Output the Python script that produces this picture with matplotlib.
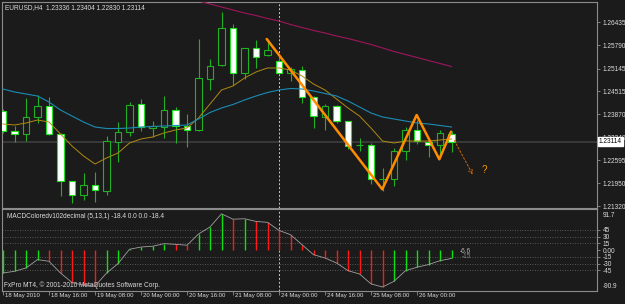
import numpy as np
import matplotlib.pyplot as plt
from matplotlib.transforms import blended_transform_factory

plt.rcParams['font.family'] = ['Liberation Sans', 'DejaVu Sans']

# EURUSD H4 bars, 18 May 2010 00:00 .. 26 May 2010 (index 0..39)
opens = [1.23966, 1.23409, 1.23325, 1.23807, 1.24105, 1.23325, 1.22008, 1.21619, 1.21897, 1.21747,
         1.23103, 1.23389, 1.24152, 1.23506, 1.23512, 1.23993, 1.23548, 1.23428, 1.24865, 1.25238,
         1.26285, 1.25015, 1.25711, 1.25516, 1.25349, 1.25032, 1.25099, 1.24364, 1.23807, 1.24105,
         1.23687, 1.23010, 1.23011, 1.22059, 1.22064, 1.22852, 1.23437, 1.23111, 1.23019, 1.23336]
highs = [1.24021, 1.23548, 1.24328, 1.24419, 1.24355, 1.23340, 1.22017, 1.22240, 1.22267, 1.23270,
         1.23659, 1.24225, 1.24308, 1.23679, 1.24375, 1.24069, 1.23890, 1.25962, 1.25413, 1.26713,
         1.26388, 1.25720, 1.25934, 1.25962, 1.25485, 1.25199, 1.25218, 1.24370, 1.24152, 1.24120,
         1.23695, 1.23206, 1.23066, 1.22370, 1.22927, 1.23529, 1.23715, 1.23139, 1.23437, 1.23404]
lows = [1.23353, 1.23103, 1.23139, 1.23640, 1.23297, 1.21599, 1.21413, 1.21488, 1.21440, 1.21627,
        1.22554, 1.23278, 1.23417, 1.23250, 1.23222, 1.23066, 1.22955, 1.23409, 1.24550, 1.25230,
        1.24689, 1.24848, 1.25171, 1.25510, 1.25025, 1.24801, 1.24197, 1.23492, 1.23437, 1.23631,
        1.22899, 1.22860, 1.21925, 1.21738, 1.21878, 1.22602, 1.23047, 1.22693, 1.22693, 1.22830]
closes = [1.23409, 1.23325, 1.23807, 1.24105, 1.23325, 1.22008, 1.21635, 1.21905, 1.21766, 1.23122,
          1.23389, 1.24124, 1.23529, 1.23534, 1.23985, 1.23556, 1.23437, 1.24876, 1.25227, 1.26268,
          1.25015, 1.25711, 1.25477, 1.25664, 1.25032, 1.25127, 1.24364, 1.23826, 1.24113, 1.23696,
          1.23000, 1.23020, 1.22064, 1.22072, 1.22852, 1.23437, 1.23130, 1.23019, 1.23345, 1.23114]

ma_fast = [1.23604, 1.23576, 1.23631, 1.23715, 1.23659, 1.23325, 1.22991, 1.22713, 1.22490, 1.22657,
           1.22796, 1.23075, 1.23186, 1.23242, 1.23353, 1.23437, 1.23492, 1.23771, 1.24160, 1.24550,
           1.24662, 1.24884, 1.25051, 1.25163, 1.25163, 1.25107, 1.24940, 1.24717, 1.24550, 1.24300,
           1.24049, 1.23826, 1.23492, 1.23130, 1.23075, 1.23130, 1.23130, 1.23130, 1.23158, 1.23186]
ma_mid = [1.24578, 1.24495, 1.24439, 1.24383, 1.24216, 1.23993, 1.23826, 1.23659, 1.23520, 1.23478,
          1.23478, 1.23492, 1.23520, 1.23534, 1.23548, 1.23562, 1.23576, 1.23743, 1.23924, 1.24049,
          1.24147, 1.24272, 1.24383, 1.24481, 1.24550, 1.24592, 1.24578, 1.24522, 1.24453, 1.24383,
          1.24244, 1.24077, 1.23910, 1.23799, 1.23743, 1.23687, 1.23631, 1.23604, 1.23562, 1.23520]
ma_slow_x = list(range(17, 40))
ma_slow = [1.27028, 1.26944, 1.26861, 1.26777, 1.26694, 1.26624, 1.26541, 1.26471, 1.26374, 1.26290,
           1.26207, 1.26137, 1.26054, 1.25984, 1.25901, 1.25817, 1.25720, 1.25622, 1.25539, 1.25455,
           1.25372, 1.25288, 1.25204]

macd = [-50.8, -47, -39.6, -21, -24.8, -50.8, -72, -78, -80, -51,
        -30, 2, 7, 8.7, 14.5, 13, 11, 36, 51.7, 81,
        69, 70, 64, 62, 44, 34.5, 12.3, -10, -17.4, -28.5,
        -45.6, -53, -75, -82, -69.3, -45.6, -38, -32, -23.4, -18.4]

# hand-drawn zigzag and arrow (bar index, price)
zig_x = [22.93, 32.98, 35.97, 37.94, 38.96]
zig_y = [1.25970, 1.21786, 1.23854, 1.22621, 1.23389]
arrow_from = (39.13, 1.23214)
arrow_to = (40.96, 1.22128)
qmark = (41.6, 1.22323)

price_ticks = [1.26435, 1.25790, 1.25145, 1.24515, 1.23870, 1.23240, 1.22595, 1.21950, 1.21320]
bid = 1.23114
time_pos = [0, 4, 8, 12, 16, 20, 24, 28, 32, 36]
time_labels = ['18 May 2010', '18 May 16:00', '19 May 08:00', '20 May 00:00', '20 May 16:00',
               '21 May 08:00', '24 May 00:00', '24 May 16:00', '25 May 08:00', '26 May 00:00']
macd_levels = [45, 30, 15, -15, -30, -45]

bg = '#1b1b1b'
txt = '#dcdcdc'
border = '#8c8c8c'
fs = 4.7

fig = plt.figure(figsize=(6.25, 3.04), dpi=100, facecolor=bg)
ax = fig.add_axes([2 / 625, 1 - 208 / 304, 595 / 625, 206 / 304], facecolor=bg)
mx = fig.add_axes([2 / 625, 1 - 291 / 304, 595 / 625, 82 / 304], facecolor=bg)

x = np.arange(len(opens))
O, H, L, C = map(np.array, (opens, highs, lows, closes))
up = C >= O
bot = np.minimum(O, C)
hgt = np.maximum(np.abs(C - O), 0.00003)

ax.axhline(bid, color='#3c3c3c', lw=1.3, zorder=1)
ax.vlines(x, L, H, color='#22b022', lw=0.8, zorder=3)
ax.bar(x[up], hgt[up], bottom=bot[up], width=0.6, color=bg, edgecolor='#22b022', lw=0.8, zorder=4)
ax.bar(x[~up], hgt[~up], bottom=bot[~up], width=0.6, color='white', edgecolor='#22e022', lw=0.8, zorder=4)

ax.plot(x, ma_fast, color='#b08a10', lw=0.7, zorder=5)
ax.plot(x, ma_mid, color='#1a8cb4', lw=0.8, zorder=5)
ax.plot(ma_slow_x, ma_slow, color='#a0155e', lw=0.8, zorder=5)

ax.plot(zig_x, zig_y, color='#ff8c00', lw=1.8, zorder=6, solid_capstyle='round')
ax.annotate('', xy=arrow_to, xytext=arrow_from,
            arrowprops=dict(arrowstyle='->', color='#d06800', lw=0.7, ls=(0, (2, 2)),
                            mutation_scale=7), zorder=6)
ax.text(qmark[0], qmark[1], '?', color='#ff9a00', fontsize=7, ha='left', va='center')

ax.axvline(24, color='#c8c8c8', lw=0.7, ls=(0, (2, 2)), zorder=2)
mx.axvline(24, color='#c8c8c8', lw=0.7, ls=(0, (2, 2)), zorder=2)

ax.set_xlim(-1 / 11.5, 594 / 11.5)
ax.set_ylim(1.21265, 1.27000)
ax.set_xticks([])
ax.yaxis.tick_right()
ax.set_yticks(price_ticks)
ax.set_yticklabels([f'{p:.5f}' for p in price_ticks])
ax.tick_params(axis='y', length=2.5, width=0.6, color=border, labelcolor=txt,
               labelsize=fs, pad=1.5)

tr = blended_transform_factory(ax.transAxes, ax.transData)
ax.text(1.003, bid, '1.23114', transform=tr, fontsize=fs, color='black', va='center', ha='left',
        bbox=dict(boxstyle='square,pad=0.15', fc='white', ec='white'), zorder=10, clip_on=False)

fig.text(5 / 625, 1 - 7.5 / 304, 'EURUSD,H4  1.23336 1.23404 1.22830 1.23114',
         color=txt, fontsize=fs, va='center', ha='left')

# MACD panel
cols = ['#10e010'] + ['#10e010' if macd[i] > macd[i - 1] else '#ff1818' for i in range(1, len(macd))]
for lv in macd_levels:
    mx.axhline(lv, color='#6a6a6a', lw=0.6, ls=(0, (1, 2)), zorder=1)
mx.vlines(x, 0, macd, colors=cols, lw=1.0, zorder=3)
mx.plot(x, macd, color='#a0a0a0', lw=0.6, zorder=4)
mx.set_xlim(ax.get_xlim())
mx.set_ylim(-90.9, 91.7)
mx.yaxis.tick_right()
mx.set_yticks([45, 30, 15, 0, -15, -30, -45])
mx.set_yticklabels(['45', '30', '15', '0.00', '-15', '-30', '-45'])
mx.tick_params(axis='y', length=2.5, width=0.6, color=border, labelcolor=txt, labelsize=fs, pad=1.5)
mx.text(1.01, 0.925, '91.7', transform=mx.transAxes, fontsize=fs, color=txt, va='center', ha='left')
mx.text(1.01, 0.055, '-90.9', transform=mx.transAxes, fontsize=fs, color=txt, va='center', ha='left')
mx.text(39.7, -4, '-6.6', fontsize=fs, color='#b8b8b8', va='center', ha='left')
mx.text(39.9, -13, '-15', fontsize=fs, color='#8a8a8a', va='center', ha='left')

mx.text(0.008, 0.905, 'MACDColoredv102decimal (5,13,1) -18.4 0.0 0.0 -18.4', transform=mx.transAxes,
        fontsize=fs, color=txt, va='center', ha='left')
mx.text(0.004, 0.075, 'FxPro MT4, \u00a9 2001-2010 MetaQuotes Software Corp.', transform=mx.transAxes,
        fontsize=fs, color=txt, va='center', ha='left')

mx.set_xticks(time_pos)
mx.set_xticklabels([])
mx.tick_params(axis='x', length=3, width=0.6, color=border)
trx = blended_transform_factory(mx.transData, mx.transAxes)
for p, lab in zip(time_pos, time_labels):
    mx.text(p + 0.2, -0.03, lab, transform=trx, fontsize=4.3, color=txt, va='top', ha='left',
            clip_on=False)

for a in (ax, mx):
    for s in a.spines.values():
        s.set_color(border)
        s.set_linewidth(0.8)

fig.savefig('out.png', dpi=100, facecolor=bg)
